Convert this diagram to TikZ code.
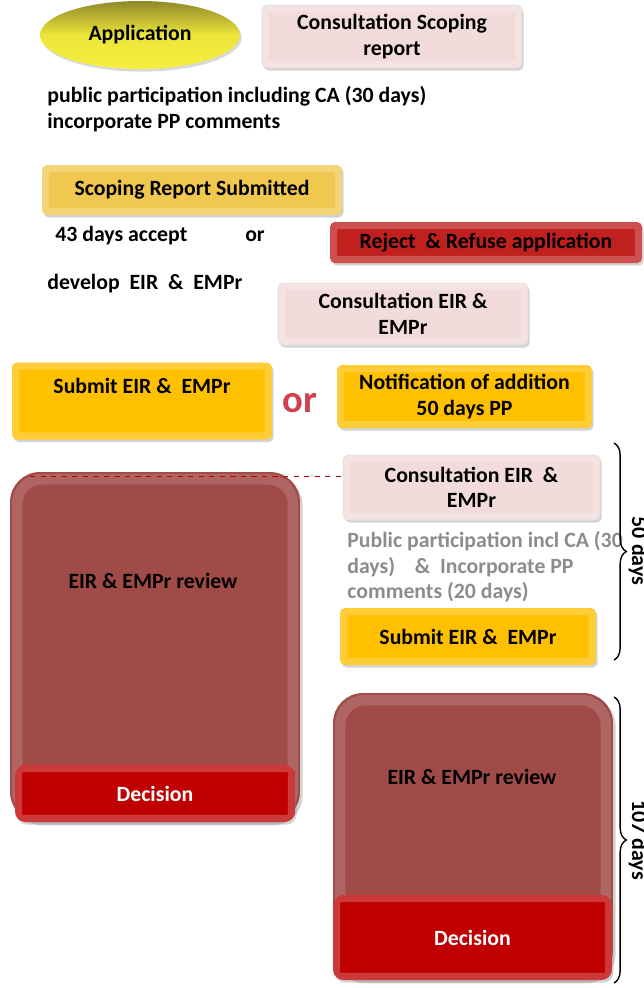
\documentclass[tikz,border=0pt]{standalone}
\usepackage{fontspec}
\setmainfont{Carlito}
\usetikzlibrary{shapes.geometric, shadows, decorations.pathreplacing, positioning}

\definecolor{ellipsetop}{HTML}{8E892A}
\definecolor{ellipsebot}{HTML}{F7EF3C}
\definecolor{pinkfill}{HTML}{F2DCDB}
\definecolor{goldfill}{HTML}{F0C850}
\definecolor{amberfill}{HTML}{FFC000}
\definecolor{rejectfill}{HTML}{C0201E}
\definecolor{reviewfill}{HTML}{A04B48}
\definecolor{decisionfill}{HTML}{C00000}
\definecolor{notegray}{HTML}{8C8C8C}
\definecolor{orred}{HTML}{D0404F}

\tikzstyle{bevel} = [rectangle, rounded corners=3pt, text centered, align=center, drop shadow={opacity=0.35, shadow xshift=1pt, shadow yshift=-1.5pt}, path picture={\draw[white, opacity=0.22, line width=4pt, rounded corners=2pt] ([shift={(2pt,2pt)}]path picture bounding box.south west) rectangle ([shift={(-2pt,-2pt)}]path picture bounding box.north east);}]
\tikzstyle{appl} = [ellipse, minimum width=4cm, minimum height=1.36cm, top color=ellipsetop, bottom color=ellipsebot, middle color=ellipsebot!90!ellipsetop, drop shadow={opacity=0.3, shadow xshift=1pt, shadow yshift=-1.5pt}]
\tikzstyle{consult} = [bevel, fill=pinkfill, draw=black!12]
\tikzstyle{scoping} = [bevel, fill=goldfill]
\tikzstyle{amber} = [bevel, fill=amberfill]
\tikzstyle{reject} = [bevel, fill=rejectfill]
\tikzstyle{decision} = [bevel, rounded corners=6pt, fill=decisionfill, text=white]
\tikzstyle{review} = [rectangle, rounded corners=0.6cm, fill=reviewfill, drop shadow={opacity=0.35, shadow xshift=1.5pt, shadow yshift=-2pt}, path picture={\draw[white, opacity=0.15, line width=6pt, rounded corners=0.5cm] ([shift={(4pt,4pt)}]path picture bounding box.south west) rectangle ([shift={(-4pt,-4pt)}]path picture bounding box.north east);}]
\tikzstyle{note} = [align=left, anchor=north west, inner sep=0pt]
\tikzstyle{daybrace} = [decorate, decoration={brace, amplitude=7pt}, thick]
\tikzstyle{daylabel} = [rotate=-90, anchor=base, inner sep=0pt, font=\bfseries\fontsize{12.5}{14}\selectfont]

\begin{document}
\begin{tikzpicture}[x=0.02cm, y=-0.02cm, every node/.style={font=\bfseries\fontsize{12.4}{14.5}\selectfont}]
\useasboundingbox (0,0) rectangle (644,988);

% scoping phase
\node (app) [appl] at (140,35) {Application};
\node (scopcons) [consult, minimum width=5.2cm, minimum height=1.26cm] at (392,36.5) {Consultation Scoping\\report};
\node (ppnote) [note] at (47,86) {public participation including CA (30 days)\\incorporate PP comments};
\node (scoprep) [scoping, minimum width=6cm, minimum height=1cm] at (192,190) {Scoping Report Submitted};
\node (accept) [anchor=west, inner sep=0pt] at (55,236) {43 days accept};
\node (orsmall) [inner sep=0pt] at (255,236) {or};
\node (reject) [reject, minimum width=6.24cm, minimum height=0.82cm] at (486,242.5) {Reject\ \ \& Refuse application};
\node (develop) [anchor=west, inner sep=0pt] at (47,284) {develop\ \ EIR\ \ \&\ \ EMPr};
\node (eircons1) [consult, minimum width=5cm, minimum height=1.24cm] at (403,314) {Consultation EIR \&\\EMPr};

% EIR phase
\node (submit1) [amber, minimum width=5.2cm, minimum height=1.54cm, text height=0.3cm, text depth=0.6cm] at (142,401) {Submit EIR \&\ \ EMPr};
\node (orbig) [text=orred, font=\bfseries\fontsize{22}{24}\selectfont] at (300,403) {or};
\node (notif) [amber, minimum width=5.1cm, minimum height=1.26cm] at (464.5,396.5) {Notification of addition\\50 days PP};
\node (eircons2) [consult, minimum width=5.14cm, minimum height=1.3cm] at (471.5,487.5) {Consultation EIR\ \ \&\\EMPr};
\node (graynote) [note, text=notegray] at (347,531) {Public participation incl CA (30\\days)\ \ \ \ \& \ Incorporate PP\\comments (20 days)};
\node (submit2) [amber, minimum width=5.12cm, minimum height=1.14cm] at (468,636.5) {Submit EIR \&\ \ EMPr};

% review and decision
\node (review1) [review, minimum width=5.8cm, minimum height=7cm] at (155,647) {};
\node (revtext1) at (153,581) {EIR \& EMPr review};
\node (decision1) [decision, minimum width=5.6cm, minimum height=1.14cm] at (155,793.5) {Decision};
\coordinate (dashL) at (30,476);
\draw [dashed, decisionfill, thin] (dashL) -- (dashL -| eircons2.west);

\node (review2) [review, minimum width=5.6cm, minimum height=5.74cm] at (473,836.5) {};
\node (revtext2) at (472,777) {EIR \& EMPr review};
\node (decision2) [decision, minimum width=5.58cm, minimum height=1.7cm] at (472.5,937.5) {Decision};

% day counts
\coordinate (b1top) at (614,443);
\coordinate (b1bot) at (614,660);
\draw [daybrace] (b1top) -- (b1bot);
\node (days50) [daylabel] at (632,551) {50 days};
\coordinate (b2top) at (614,697);
\coordinate (b2bot) at (614,983);
\draw [daybrace] (b2top) -- (b2bot);
\node (days107) [daylabel] at (632,840) {107 days};
\end{tikzpicture}
\end{document}
